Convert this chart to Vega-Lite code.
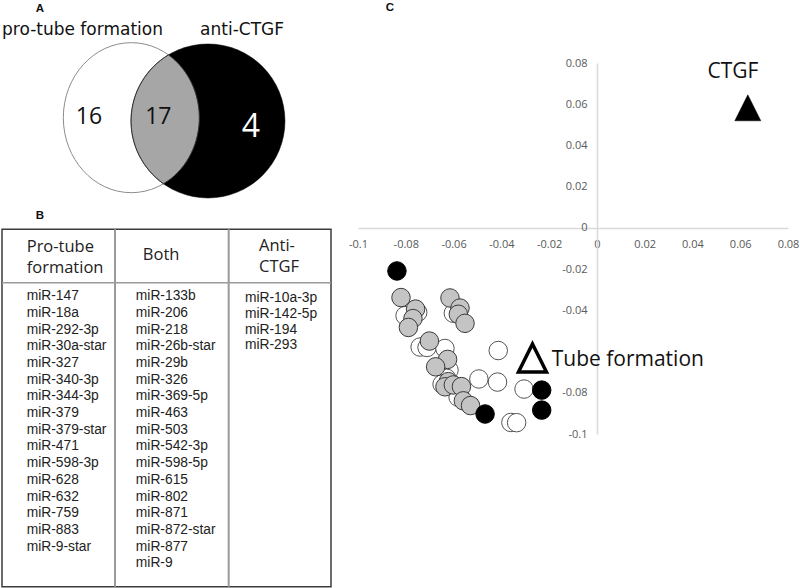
{
  "$schema": "https://vega.github.io/schema/vega-lite/v6.json",
  "width": 800,
  "height": 588,
  "padding": 0,
  "autosize": {"type": "none"},
  "background": "white",
  "config": {"view": {"stroke": null}},
  "datasets": {
    "venn": [
      {"part": "pro-tube formation", "x": 1.751, "y": 1.569},
      {"part": "anti-CTGF", "x": 2.773, "y": 1.613},
      {"part": "both", "x": 1.751, "y": 1.569}
    ],
    "vennText": [
      {"role": "set", "text": "pro-tube formation", "x": 1.10, "y": 0.463},
      {"role": "set", "text": "anti-CTGF", "x": 3.227, "y": 0.463},
      {"role": "count", "text": "16", "x": 1.187, "y": 1.653},
      {"role": "count", "text": "17", "x": 2.111, "y": 1.653},
      {"role": "countAnti", "text": "4", "x": 3.344, "y": 1.822},
      {"role": "panel", "text": "A", "x": 0.533, "y": 0.156}
    ],
    "tableBox": [{"x": 0, "x2": 1, "y": -4, "y2": 17.4}],
    "tableVLines": [
      {"x": 0.3435, "y": -4, "y2": 17.4},
      {"x": 0.689, "y": -4, "y2": 17.4}
    ],
    "tableHLines": [{"x": 0, "x2": 1, "y": -0.8}],
    "tablePanel": [{"text": "B", "x": 0.1155, "y": -4.8}],
    "tableHeader": [
      {"col": "Pro-tube formation", "text": "Pro-tube\nformation", "y": -2.95},
      {"col": "Both", "text": "Both", "y": -2.44},
      {"col": "Anti-CTGF", "text": "Anti-\nCTGF", "y": -2.98}
    ],
    "tableBody": [
      {"col": "Pro-tube formation", "i": 0, "name": "miR-147"},
      {"col": "Pro-tube formation", "i": 1, "name": "miR-18a"},
      {"col": "Pro-tube formation", "i": 2, "name": "miR-292-3p"},
      {"col": "Pro-tube formation", "i": 3, "name": "miR-30a-star"},
      {"col": "Pro-tube formation", "i": 4, "name": "miR-327"},
      {"col": "Pro-tube formation", "i": 5, "name": "miR-340-3p"},
      {"col": "Pro-tube formation", "i": 6, "name": "miR-344-3p"},
      {"col": "Pro-tube formation", "i": 7, "name": "miR-379"},
      {"col": "Pro-tube formation", "i": 8, "name": "miR-379-star"},
      {"col": "Pro-tube formation", "i": 9, "name": "miR-471"},
      {"col": "Pro-tube formation", "i": 10, "name": "miR-598-3p"},
      {"col": "Pro-tube formation", "i": 11, "name": "miR-628"},
      {"col": "Pro-tube formation", "i": 12, "name": "miR-632"},
      {"col": "Pro-tube formation", "i": 13, "name": "miR-759"},
      {"col": "Pro-tube formation", "i": 14, "name": "miR-883"},
      {"col": "Pro-tube formation", "i": 15, "name": "miR-9-star"},
      {"col": "Both", "i": 0, "name": "miR-133b"},
      {"col": "Both", "i": 1, "name": "miR-206"},
      {"col": "Both", "i": 2, "name": "miR-218"},
      {"col": "Both", "i": 3, "name": "miR-26b-star"},
      {"col": "Both", "i": 4, "name": "miR-29b"},
      {"col": "Both", "i": 5, "name": "miR-326"},
      {"col": "Both", "i": 6, "name": "miR-369-5p"},
      {"col": "Both", "i": 7, "name": "miR-463"},
      {"col": "Both", "i": 8, "name": "miR-503"},
      {"col": "Both", "i": 9, "name": "miR-542-3p"},
      {"col": "Both", "i": 10, "name": "miR-598-5p"},
      {"col": "Both", "i": 11, "name": "miR-615"},
      {"col": "Both", "i": 12, "name": "miR-802"},
      {"col": "Both", "i": 13, "name": "miR-871"},
      {"col": "Both", "i": 14, "name": "miR-872-star"},
      {"col": "Both", "i": 15, "name": "miR-877"},
      {"col": "Both", "i": 16, "name": "miR-9"},
      {"col": "Anti-CTGF", "i": 0.1, "name": "miR-10a-3p"},
      {"col": "Anti-CTGF", "i": 1.05, "name": "miR-142-5p"},
      {"col": "Anti-CTGF", "i": 2.0, "name": "miR-194"},
      {"col": "Anti-CTGF", "i": 2.95, "name": "miR-293"}
    ],
    "scatter": [
      {"group": "Pro-tube formation", "x": -0.0803, "y": -0.0426},
      {"group": "Pro-tube formation", "x": -0.0750, "y": -0.0410},
      {"group": "Pro-tube formation", "x": -0.0601, "y": -0.0414},
      {"group": "Pro-tube formation", "x": -0.0740, "y": -0.0578},
      {"group": "Pro-tube formation", "x": -0.0711, "y": -0.0580},
      {"group": "Pro-tube formation", "x": -0.0636, "y": -0.0585},
      {"group": "Pro-tube formation", "x": -0.0413, "y": -0.0595},
      {"group": "Pro-tube formation", "x": -0.0619, "y": -0.0690},
      {"group": "Pro-tube formation", "x": -0.0629, "y": -0.0730},
      {"group": "Pro-tube formation", "x": -0.0648, "y": -0.0758},
      {"group": "Pro-tube formation", "x": -0.0494, "y": -0.0733},
      {"group": "Pro-tube formation", "x": -0.0416, "y": -0.0748},
      {"group": "Pro-tube formation", "x": -0.0305, "y": -0.0782},
      {"group": "Pro-tube formation", "x": -0.0581, "y": -0.0821},
      {"group": "Pro-tube formation", "x": -0.0360, "y": -0.0944},
      {"group": "Pro-tube formation", "x": -0.0336, "y": -0.0945},
      {"group": "Both", "x": -0.0820, "y": -0.0338},
      {"group": "Both", "x": -0.0759, "y": -0.0394},
      {"group": "Both", "x": -0.0770, "y": -0.0440},
      {"group": "Both", "x": -0.0789, "y": -0.0483},
      {"group": "Both", "x": -0.0615, "y": -0.0340},
      {"group": "Both", "x": -0.0573, "y": -0.0389},
      {"group": "Both", "x": -0.0580, "y": -0.0419},
      {"group": "Both", "x": -0.0552, "y": -0.0463},
      {"group": "Both", "x": -0.0701, "y": -0.0549},
      {"group": "Both", "x": -0.0625, "y": -0.0638},
      {"group": "Both", "x": -0.0675, "y": -0.0674},
      {"group": "Both", "x": -0.0622, "y": -0.0746},
      {"group": "Both", "x": -0.0636, "y": -0.0771},
      {"group": "Both", "x": -0.0601, "y": -0.0762},
      {"group": "Both", "x": -0.0567, "y": -0.0770},
      {"group": "Both", "x": -0.0559, "y": -0.0839},
      {"group": "Both", "x": -0.0529, "y": -0.0862},
      {"group": "Anti-CTGF", "x": -0.0837, "y": -0.0209},
      {"group": "Anti-CTGF", "x": -0.0468, "y": -0.0903},
      {"group": "Anti-CTGF", "x": -0.0231, "y": -0.0787},
      {"group": "Anti-CTGF", "x": -0.0231, "y": -0.0884}
    ],
    "targets": [
      {"target": "CTGF", "x": 0.06317, "y": 0.05826},
      {"target": "Tube formation", "x": -0.02696, "y": -0.06313}
    ],
    "targetText": [
      {"target": "CTGF", "x": 0.05697, "y": 0.0726},
      {"target": "Tube formation", "x": -0.01892, "y": -0.0669}
    ],
    "scatterPanel": [{"text": "C", "x": -0.0866, "y": 0.1067}]
  },
  "layer": [
    {
      "data": {"name": "venn"},
      "transform": [{"filter": "datum.part === 'pro-tube formation'"}],
      "mark": {"type": "point", "shape": "M-0.9067,0A0.9067,1,0,1,0,0.9067,0A0.9067,1,0,1,0,-0.9067,0Z", "size": 22500, "filled": true, "fill": "#ffffff", "stroke": "#8c8c8c", "strokeWidth": 1, "opacity": 1},
      "encoding": {
        "x": {"field": "x", "type": "quantitative", "scale": {"domain": [0, 4], "range": [0, 300], "nice": false, "zero": false}, "axis": null},
        "y": {"field": "y", "type": "quantitative", "scale": {"domain": [0, 3], "range": [0, 225], "nice": false, "zero": false}, "axis": null}
      }
    },
    {
      "data": {"name": "venn"},
      "transform": [{"filter": "datum.part === 'anti-CTGF'"}],
      "mark": {"type": "point", "shape": "circle", "size": 23716, "filled": true, "fill": "#000000", "stroke": "#000000", "strokeWidth": 0.5, "opacity": 1},
      "encoding": {
        "x": {"field": "x", "type": "quantitative", "scale": {"domain": [0, 4], "range": [0, 300], "nice": false, "zero": false}, "axis": null},
        "y": {"field": "y", "type": "quantitative", "scale": {"domain": [0, 3], "range": [0, 225], "nice": false, "zero": false}, "axis": null}
      }
    },
    {
      "data": {"name": "venn"},
      "transform": [{"filter": "datum.part === 'both'"}],
      "mark": {"type": "point", "shape": "M0.496,-0.837A1.0267,1.0267,0,0,0,0.429,0.881A0.9067,1,0,0,0,0.496,-0.837Z", "size": 22500, "filled": true, "fill": "#a6a6a6", "stroke": "#333333", "strokeWidth": 1, "opacity": 1},
      "encoding": {
        "x": {"field": "x", "type": "quantitative", "scale": {"domain": [0, 4], "range": [0, 300], "nice": false, "zero": false}, "axis": null},
        "y": {"field": "y", "type": "quantitative", "scale": {"domain": [0, 3], "range": [0, 225], "nice": false, "zero": false}, "axis": null}
      }
    },
    {
      "data": {"name": "vennText"},
      "transform": [{"filter": "datum.role === 'set'"}],
      "mark": {"type": "text", "font": "DejaVu Sans", "fontSize": 17, "align": "center", "baseline": "alphabetic", "fill": "#111111"},
      "encoding": {
        "x": {"field": "x", "type": "quantitative", "scale": {"domain": [0, 4], "range": [0, 300], "nice": false, "zero": false}, "axis": null},
        "y": {"field": "y", "type": "quantitative", "scale": {"domain": [0, 3], "range": [0, 225], "nice": false, "zero": false}, "axis": null},
        "text": {"field": "text"}
      }
    },
    {
      "data": {"name": "vennText"},
      "transform": [{"filter": "datum.role === 'count'"}],
      "mark": {"type": "text", "font": "Open Sans", "fontSize": 23, "align": "center", "baseline": "alphabetic", "fill": "#111111"},
      "encoding": {
        "x": {"field": "x", "type": "quantitative", "scale": {"domain": [0, 4], "range": [0, 300], "nice": false, "zero": false}, "axis": null},
        "y": {"field": "y", "type": "quantitative", "scale": {"domain": [0, 3], "range": [0, 225], "nice": false, "zero": false}, "axis": null},
        "text": {"field": "text"}
      }
    },
    {
      "data": {"name": "vennText"},
      "transform": [{"filter": "datum.role === 'countAnti'"}],
      "mark": {"type": "text", "font": "Open Sans", "fontSize": 32, "align": "center", "baseline": "alphabetic", "fill": "#ffffff"},
      "encoding": {
        "x": {"field": "x", "type": "quantitative", "scale": {"domain": [0, 4], "range": [0, 300], "nice": false, "zero": false}, "axis": null},
        "y": {"field": "y", "type": "quantitative", "scale": {"domain": [0, 3], "range": [0, 225], "nice": false, "zero": false}, "axis": null},
        "text": {"field": "text"}
      }
    },
    {
      "data": {"name": "vennText"},
      "transform": [{"filter": "datum.role === 'panel'"}],
      "mark": {"type": "text", "font": "Liberation Sans", "fontSize": 11.5, "fontWeight": "bold", "align": "center", "baseline": "alphabetic", "fill": "#111111"},
      "encoding": {
        "x": {"field": "x", "type": "quantitative", "scale": {"domain": [0, 4], "range": [0, 300], "nice": false, "zero": false}, "axis": null},
        "y": {"field": "y", "type": "quantitative", "scale": {"domain": [0, 3], "range": [0, 225], "nice": false, "zero": false}, "axis": null},
        "text": {"field": "text"}
      }
    },
    {
      "data": {"name": "tableBox"},
      "mark": {"type": "rect", "filled": false, "stroke": "#3c3c3c", "strokeWidth": 1.5},
      "encoding": {
        "x": {"field": "x", "type": "quantitative", "scale": {"domain": [0, 1], "range": [2, 331], "nice": false, "zero": false}, "axis": null},
        "x2": {"field": "x2"},
        "y": {"field": "y", "type": "quantitative", "scale": {"domain": [-4, 17.5], "range": [229.3, 588.35], "nice": false, "zero": false}, "axis": null},
        "y2": {"field": "y2"}
      }
    },
    {
      "data": {"name": "tableVLines"},
      "mark": {"type": "rule", "color": "#9a9a9a", "strokeWidth": 2},
      "encoding": {
        "x": {"field": "x", "type": "quantitative", "scale": {"domain": [0, 1], "range": [2, 331], "nice": false, "zero": false}, "axis": null},
        "y": {"field": "y", "type": "quantitative", "scale": {"domain": [-4, 17.5], "range": [229.3, 588.35], "nice": false, "zero": false}, "axis": null},
        "y2": {"field": "y2"}
      }
    },
    {
      "data": {"name": "tableHLines"},
      "mark": {"type": "rule", "color": "#9a9a9a", "strokeWidth": 1.5},
      "encoding": {
        "x": {"field": "x", "type": "quantitative", "scale": {"domain": [0, 1], "range": [2, 331], "nice": false, "zero": false}, "axis": null},
        "x2": {"field": "x2"},
        "y": {"field": "y", "type": "quantitative", "scale": {"domain": [-4, 17.5], "range": [229.3, 588.35], "nice": false, "zero": false}, "axis": null}
      }
    },
    {
      "data": {"name": "tablePanel"},
      "mark": {"type": "text", "font": "Liberation Sans", "fontSize": 11.5, "fontWeight": "bold", "align": "center", "baseline": "middle", "fill": "#111111"},
      "encoding": {
        "x": {"field": "x", "type": "quantitative", "scale": {"domain": [0, 1], "range": [2, 331], "nice": false, "zero": false}, "axis": null},
        "y": {"field": "y", "type": "quantitative", "scale": {"domain": [-4, 17.5], "range": [229.3, 588.35], "nice": false, "zero": false}, "axis": null},
        "text": {"field": "text"}
      }
    },
    {
      "data": {"name": "tableHeader"},
      "mark": {"type": "text", "font": "Open Sans", "fontSize": 16.5, "align": "left", "baseline": "middle", "lineBreak": "\n", "lineHeight": 21, "fill": "#222222"},
      "encoding": {
        "x": {"field": "col", "type": "nominal", "sort": null, "scale": {"type": "point", "domain": ["Pro-tube formation", "Both", "Anti-CTGF"], "range": [26.7, 259], "padding": 0}, "axis": null},
        "y": {"field": "y", "type": "quantitative", "scale": {"domain": [-4, 17.5], "range": [229.3, 588.35], "nice": false, "zero": false}, "axis": null},
        "text": {"field": "text"}
      }
    },
    {
      "data": {"name": "tableBody"},
      "mark": {"type": "text", "font": "Liberation Sans", "fontSize": 13.8, "align": "left", "baseline": "middle", "fill": "#222222"},
      "encoding": {
        "x": {"field": "col", "type": "nominal", "sort": null, "scale": {"type": "point", "domain": ["Pro-tube formation", "Both", "Anti-CTGF"], "range": [26.7, 245], "padding": 0}, "axis": null},
        "y": {"field": "i", "type": "quantitative", "scale": {"domain": [-4, 17.5], "range": [229.3, 588.35], "nice": false, "zero": false}, "axis": null},
        "text": {"field": "name"}
      }
    },
    {
      "data": {"name": "scatter"},
      "mark": {"type": "point", "shape": "circle", "size": 342, "filled": true, "strokeWidth": 1, "opacity": 1},
      "encoding": {
        "x": {"field": "x", "type": "quantitative",
          "scale": {"domain": [-0.1, 0.08], "range": [358, 788], "nice": false, "zero": false},
          "axis": {"orient": "bottom", "offset": -360, "values": [-0.1, -0.08, -0.06, -0.04, -0.02, 0, 0.02, 0.04, 0.06, 0.08], "labelExpr": "toString(round(datum.value*100)/100)", "ticks": false, "tickSize": 0, "labelPadding": 10, "grid": false, "domainColor": "#d9d9d9", "domainWidth": 1.5, "labelColor": "#595959", "labelFont": "Open Sans", "labelFontSize": 11, "labelFlush": false, "labelOverlap": false, "title": null}},
        "y": {"field": "y", "type": "quantitative",
          "scale": {"domain": [-0.1, 0.08], "range": [434, 63], "nice": false, "zero": false},
          "axis": {"orient": "left", "offset": -597, "values": [-0.1, -0.08, -0.04, -0.02, 0, 0.02, 0.04, 0.06, 0.08], "labelExpr": "toString(round(datum.value*100)/100)", "ticks": false, "tickSize": 0, "labelPadding": 10, "grid": false, "domainColor": "#d9d9d9", "domainWidth": 1.5, "labelColor": "#595959", "labelFont": "Open Sans", "labelFontSize": 11, "labelFlush": false, "labelOverlap": false, "title": null}},
        "fill": {"field": "group", "type": "nominal", "scale": {"domain": ["Pro-tube formation", "Both", "Anti-CTGF"], "range": ["#ffffff", "#c4c4c4", "#000000"]}, "legend": null},
        "stroke": {"field": "group", "type": "nominal", "scale": {"domain": ["Pro-tube formation", "Both", "Anti-CTGF"], "range": ["#555555", "#3a3a3a", "#000000"]}, "legend": null}
      }
    },
    {
      "data": {"name": "targets"},
      "transform": [{"filter": "datum.target === 'CTGF'"}],
      "mark": {"type": "point", "shape": "M0,-1L1,1L-1,1Z", "size": 676, "filled": true, "fill": "#000000", "stroke": "#000000", "strokeWidth": 0.5, "opacity": 1},
      "encoding": {
        "x": {"field": "x", "type": "quantitative", "scale": {"domain": [-0.1, 0.08], "range": [358, 788], "nice": false, "zero": false}, "axis": null},
        "y": {"field": "y", "type": "quantitative", "scale": {"domain": [-0.1, 0.08], "range": [434, 63], "nice": false, "zero": false}, "axis": null}
      }
    },
    {
      "data": {"name": "targets"},
      "transform": [{"filter": "datum.target === 'Tube formation'"}],
      "mark": {"type": "point", "shape": "M0,-1L1,1L-1,1Z", "size": 784, "filled": true, "fill": "#ffffff", "stroke": "#000000", "strokeWidth": 3.5, "strokeJoin": "miter", "opacity": 1},
      "encoding": {
        "x": {"field": "x", "type": "quantitative", "scale": {"domain": [-0.1, 0.08], "range": [358, 788], "nice": false, "zero": false}, "axis": null},
        "y": {"field": "y", "type": "quantitative", "scale": {"domain": [-0.1, 0.08], "range": [434, 63], "nice": false, "zero": false}, "axis": null}
      }
    },
    {
      "data": {"name": "targetText"},
      "transform": [{"filter": "datum.target === 'CTGF'"}],
      "mark": {"type": "text", "font": "Open Sans", "fontSize": 21, "align": "center", "baseline": "alphabetic", "fill": "#111111"},
      "encoding": {
        "x": {"field": "x", "type": "quantitative", "scale": {"domain": [-0.1, 0.08], "range": [358, 788], "nice": false, "zero": false}, "axis": null},
        "y": {"field": "y", "type": "quantitative", "scale": {"domain": [-0.1, 0.08], "range": [434, 63], "nice": false, "zero": false}, "axis": null},
        "text": {"field": "target"}
      }
    },
    {
      "data": {"name": "targetText"},
      "transform": [{"filter": "datum.target === 'Tube formation'"}],
      "mark": {"type": "text", "font": "Open Sans", "fontSize": 21, "align": "left", "baseline": "alphabetic", "fill": "#111111"},
      "encoding": {
        "x": {"field": "x", "type": "quantitative", "scale": {"domain": [-0.1, 0.08], "range": [358, 788], "nice": false, "zero": false}, "axis": null},
        "y": {"field": "y", "type": "quantitative", "scale": {"domain": [-0.1, 0.08], "range": [434, 63], "nice": false, "zero": false}, "axis": null},
        "text": {"field": "target"}
      }
    },
    {
      "data": {"name": "scatterPanel"},
      "mark": {"type": "text", "font": "Liberation Sans", "fontSize": 11.5, "fontWeight": "bold", "align": "center", "baseline": "middle", "fill": "#111111"},
      "encoding": {
        "x": {"field": "x", "type": "quantitative", "scale": {"domain": [-0.1, 0.08], "range": [358, 788], "nice": false, "zero": false}, "axis": null},
        "y": {"field": "y", "type": "quantitative", "scale": {"domain": [-0.1, 0.08], "range": [434, 63], "nice": false, "zero": false}, "axis": null},
        "text": {"field": "text"}
      }
    }
  ],
  "resolve": {"scale": {"x": "independent", "y": "independent", "fill": "independent", "stroke": "independent"}}
}
